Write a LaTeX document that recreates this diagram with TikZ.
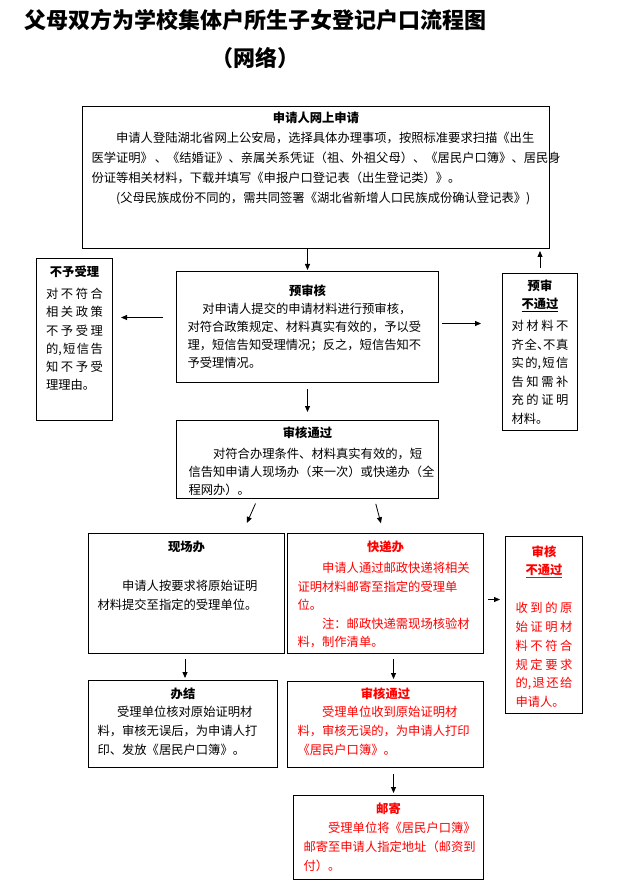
\documentclass[tikz,border=0pt]{standalone}
\usepackage{fontspec}
\setmainfont{Noto Sans CJK SC}
\usetikzlibrary{arrows.meta}

% glue between Chinese characters, no line breaks there
\XeTeXinterchartokenstate=1
\newcommand{\cjkglue}{\nobreak\hskip 0pt plus 1pt minus 0.6pt\relax}
\XeTeXinterchartoks 1 1 = {\cjkglue}
\XeTeXinterchartoks 1 2 = {\cjkglue}
\XeTeXinterchartoks 1 3 = {\cjkglue}
\XeTeXinterchartoks 2 1 = {\cjkglue}
\XeTeXinterchartoks 2 2 = {\cjkglue}
\XeTeXinterchartoks 3 1 = {\cjkglue}
\XeTeXinterchartoks 3 2 = {\cjkglue}
\XeTeXinterchartoks 3 3 = {\cjkglue}
\hbadness=10000

\newcommand{\fillrow}[1]{\makebox[\linewidth][s]{#1}\par}

\tikzset{
  flowbox/.style={draw, line width=1pt, anchor=north west, align=justify,
    inner ysep=4pt, text height=13.6pt, font=\fontsize{12.3}{18.8}\selectfont},
  redbox/.style={flowbox, text=red},
  arr/.style={-{Triangle[length=6pt,width=5pt]}, line width=0.8pt}
}

\begin{document}
\begin{tikzpicture}[x=1pt,y=-1pt]
  \useasboundingbox (0,0) rectangle (623,882);
  % Title
  \node[font=\fontsize{22}{26}\bfseries] (title) at (255,20) {父母双方为学校集体户所生子女登记户口流程图};
  \node[font=\fontsize{22}{26}\bfseries] (subtitle) at (255,58) {（网络）};

  % Boxes
  \node[flowbox, text width=449pt, inner xsep=9pt, text height=11.6pt, text depth=122.4pt,
    font=\fontsize{12.3}{20}\selectfont] (apply) at (82,106) {%
    \centerline{\bfseries 申请人网上申请}
    \hspace*{2em}申请人登陆湖北省网上公安局，选择具体办理事项，按照标准要求扫描《出生\linebreak
    医学证明》 、《结婚证》、亲属关系凭证（祖、外祖父母）、《居民户口簿》、居民身\linebreak
    份证等相关材料，下载并填写《申报户口登记表（出生登记类）》。\par
    \hspace*{2em}(父母民族成份不同的，需共同签署《湖北省新增人口民族成份确认登记表》)};

  \node[flowbox, text width=57pt, inner xsep=9.5pt, text depth=140.4pt,
    font=\fontsize{12.3}{18.3}\selectfont] (reject) at (36,258) {%
    \centerline{\bfseries 不予受理}\vspace{4pt}
    \fillrow{对\hfil 不\hfil 符\hfil 合}
    \fillrow{相\hfil 关\hfil 政\hfil 策}
    \fillrow{不\hfil 予\hfil 受\hfil 理}
    \fillrow{的,\hfil 短\hfil 信\hfil 告}
    \fillrow{知\hfil 不\hfil 予\hfil 受}
    理理由。};

  \node[flowbox, text width=240pt, inner xsep=11pt, text height=19.6pt, text depth=83.4pt,
    font=\fontsize{12.3}{18}\selectfont] (precheck) at (176,271) {%
    \centerline{\bfseries 预审核}
    \leftskip=10pt
    \hspace*{1.2em}对申请人提交的申请材料进行预审核，\linebreak
    对符合政策规定、材料真实有效的，予以受\linebreak
    理，短信告知受理情况；反之，短信告知不\linebreak
    予受理情况。};

  \node[flowbox, text width=57pt, inner xsep=9pt, text height=12.6pt, text depth=136.4pt,
    font=\fontsize{12.3}{18.5}\selectfont] (fail1) at (502,273) {%
    \centerline{\bfseries 预审}
    \centerline{\bfseries\underline{不通过}}\vspace{3.5pt}
    \fillrow{对\hfil 材\hfil 料\hfil 不}
    \fillrow{齐\hfil 全\makebox[6pt][l]{、}不\hfil 真}
    \fillrow{实\hfil 的,\hfil 短\hfil 信}
    \fillrow{告\hfil 知\hfil 需\hfil 补}
    \fillrow{充\hfil 的\hfil 证\hfil 明}
    材料。};

  \node[flowbox, text width=238pt, inner xsep=12pt, text height=12.6pt, text depth=57.4pt,
    font=\fontsize{12.3}{18}\selectfont] (pass1) at (176,420) {%
    \centerline{\bfseries 审核通过}\vspace{3pt}
    \hspace*{2em}对符合办理条件、材料真实有效的，短\linebreak
    信告知申请人现场办（来一次）或快递办（全\linebreak
    程网办）。};

  \node[flowbox, text width=178pt, inner xsep=9pt, text height=14.3pt, text depth=97.7pt] (onsite) at (88,533) {%
    \centerline{\bfseries 现场办}\vspace{20pt}
    \hspace*{2em}申请人按要求将原始证明\\
    材料提交至指定的受理单位。};

  \node[redbox, text width=176pt, inner xsep=10pt, text height=14.3pt, text depth=97.7pt,
    font=\fontsize{12.3}{18.6}\selectfont] (express) at (287,533) {%
    \centerline{\bfseries 快递办}\vspace{2pt}
    \hspace*{2em}申请人通过邮政快递将相关\linebreak
    证明材料邮寄至指定的受理单\\
    位。\par
    \hspace*{2em}注：邮政快递需现场核验材\linebreak
    料，制作清单。};

  \node[redbox, text width=57pt, inner xsep=10pt, text height=15.6pt, text depth=153.4pt] (fail2) at (505,536) {%
    \centerline{\bfseries 审核}
    \centerline{\bfseries\underline{不通过}}\vspace{19pt}
    \fillrow{收\hfil 到\hfil 的\hfil 原}
    \fillrow{始\hfil 证\hfil 明\hfil 材}
    \fillrow{料\hfil 不\hfil 符\hfil 合}
    \fillrow{规\hfil 定\hfil 要\hfil 求}
    \fillrow{的,\hfil 退\hfil 还\hfil 给}
    申请人。};

  \node[flowbox, text width=171pt, inner xsep=9pt, text depth=65.4pt] (done) at (88,680) {%
    \centerline{\bfseries 办结}
    \hspace*{1.6em}受理单位核对原始证明材\\
    料，审核无误后，为申请人打\\
    印、发放《居民户口簿》。};

  \node[redbox, text width=176pt, inner xsep=10pt, text height=12.6pt, text depth=65.4pt] (pass2) at (287,681) {%
    \centerline{\bfseries 审核通过}
    \hspace*{2em}受理单位收到原始证明材\\
    料，审核无误的，为申请人打印\\
    《居民户口簿》。};

  \node[redbox, text width=170pt, inner xsep=10pt, text depth=62.4pt,
    font=\fontsize{12.3}{19}\selectfont] (mail) at (293,795) {%
    \centerline{\bfseries 邮寄}
    \hspace*{2em}受理单位将《居民户口簿》\linebreak
    邮寄至申请人指定地址（邮资到\linebreak
    付）。};

  % Connectors
  \coordinate (leftout) at ([yshift=9.5pt]precheck.west);
  \coordinate (rightout) at ([yshift=3.5pt]precheck.east);
  \coordinate (toonsite) at ([xshift=-50pt]pass1.south);
  \coordinate (onsitein) at ([xshift=56pt]onsite.north);
  \coordinate (toexpress) at ([xshift=67pt]pass1.south);
  \coordinate (expressin) at ([xshift=-2pt]express.north);
  \coordinate (failout) at ([yshift=-6pt]express.east);
  \coordinate (donein) at ([xshift=2pt]done.north);
  \coordinate (pass2in) at ([xshift=8pt]pass2.north);
  \coordinate (pass2out) at ([xshift=8pt]pass2.south);

  \draw[arr, shorten >=1pt] (precheck.north |- apply.south) -- (precheck.north);
  \draw[arr, shorten <=13pt, shorten >=8pt] (leftout) -- (leftout -| reject.east);
  \draw[arr, shorten <=3pt, shorten >=21pt] (rightout) -- (rightout -| fail1.west);
  \draw[arr, shorten <=5pt, shorten >=2pt] (fail1.north) -- (fail1.north |- apply.south);
  \draw[arr, shorten <=6pt, shorten >=8pt] (pass1.north |- precheck.south) -- (pass1.north);
  \draw[arr, shorten <=5pt, shorten >=11pt] (toonsite) -- (onsitein);
  \draw[arr, shorten <=5pt, shorten >=10pt] (toexpress) -- (expressin);
  \draw[arr, shorten <=4pt, shorten >=5pt] (failout) -- (failout -| fail2.west);
  \draw[arr, shorten <=5pt, shorten >=2pt] (donein |- onsite.south) -- (donein);
  \draw[arr, shorten <=5pt, shorten >=2pt] (pass2in |- express.south) -- (pass2in);
  \draw[arr, shorten <=6pt, shorten >=2pt] (pass2out) -- (pass2out |- mail.north);
\end{tikzpicture}
\end{document}
